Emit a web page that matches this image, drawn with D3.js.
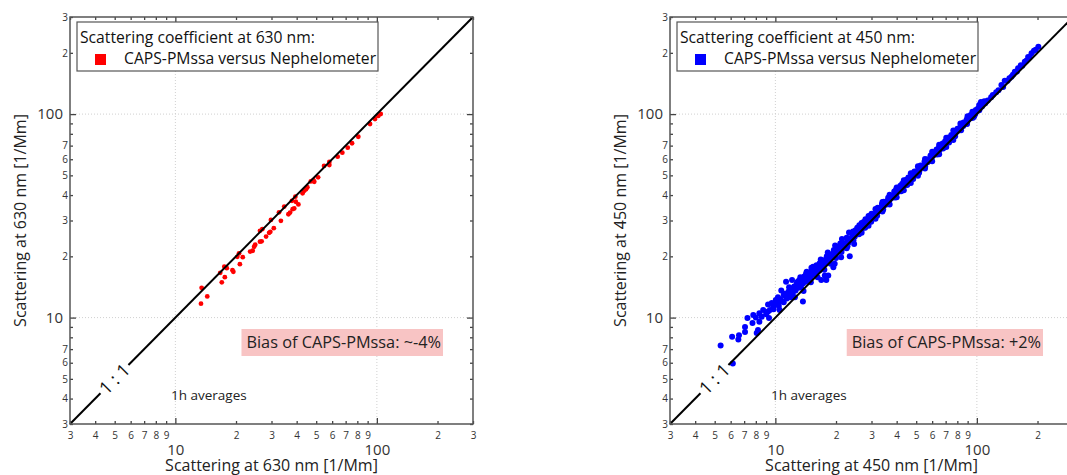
<!DOCTYPE html>
<html>
<head>
<meta charset="utf-8">
<script src="https://cdn.jsdelivr.net/npm/d3@7"></script>
<style>
body { margin: 0; background: #fff; }
svg { font-family: "Open Sans", sans-serif; }
</style>
</head>
<body>
<svg width="1067" height="475"></svg>
<script>
// values: [nephelometer, CAPS-PMssa] in 1/Mm
var redPoints = [
  [13.4,11.7],[13.5,14.0],[14.4,12.7],[17.0,14.9],[17.6,15.8],[16.7,16.6],[17.5,17.8],[18.0,17.5],
  [19.2,17.1],[19.4,16.8],[20.9,18.3],[21.6,19.8],[20.3,19.9],[20.7,20.7],[23.5,21.1],[24.2,21.3],
  [24.6,22.3],[24.9,22.8],[26.3,23.6],[26.8,23.7],[26.3,26.7],[27.0,27.2],[28.2,25.0],[29.2,26.1],
  [29.6,26.4],[30.8,27.5],[29.8,30.2],[33.4,29.9],[32.7,32.9],[34.7,35.1],[36.4,32.2],[37.1,32.8],
  [38.2,34.1],[38.9,34.4],[37.9,37.5],[39.4,39.3],[39.6,37.1],[40.8,36.0],[42.8,40.8],[43.6,42.0],
  [44.5,42.7],[45.2,43.7],[47.0,46.7],[48.4,47.4],[48.9,46.5],[51.1,48.9],[54.7,55.6],[58.1,56.2],
  [58.1,58.2],[63.9,61.8],[67.4,64.6],[71.7,68.4],[75.3,71.9],[80.9,77.4],[92.5,89.4],[97.9,94.6],
  [101.6,97.9],[104.5,100.1]
];

var bluePoints = [
  // sparse low end
  [5.35,7.3],[6.1,8.05],[6.15,5.95],[6.55,7.8],[6.6,8.2],[7.07,8.5],[7.07,9.0],[7.27,9.95],
  [7.77,10.3],[7.7,9.4],[8.0,10.0],[8.08,8.4],[8.2,8.7],[8.33,10.5],[8.55,10.1],[8.33,9.55],
  [8.7,10.9],[9.2,10.7],[9.3,9.95],[9.2,11.6],[9.6,11.8],[9.75,11.3],[10.05,12.2],[10.5,10.9],
  [10.3,12.6],[10.7,13.6],[11.1,13.1],[11.3,15.0],[11.7,14.1],[11.9,13.3],[12.1,15.3],[11.9,12.6],
  [12.8,14.8],[13.3,15.8],[13.7,12.0],[14.0,15.8],[14.3,16.8],[14.8,15.3],[15.1,17.6],[15.7,16.6],
  [16.0,18.1],[16.6,17.1],[16.9,15.3],[17.9,15.3],[17.6,16.1],[18.3,16.1],[17.3,18.8],[18.3,19.4],
  [19.0,20.0],[19.4,17.7],[19.7,18.4],[20.1,21.4],[20.8,22.3],[21.2,19.8],[21.9,23.0],[22.6,21.9],
  [23.0,24.5],[23.4,20.0],[24.2,25.3],[24.6,23.0],[25.0,26.9],
  // dense band
  [9.0,10.4],[9.4,10.9],[9.8,11.0],[10.1,11.7],[10.4,11.4],[10.6,12.3],[10.9,12.0],[11.2,12.8],
  [11.4,12.4],[11.6,13.4],[11.8,12.9],[12.0,13.9],[12.2,13.2],[12.4,14.2],[12.6,13.6],[12.8,14.6],
  [13.0,14.0],[13.1,15.2],[13.3,14.5],[13.5,15.5],[13.7,14.7],[13.9,15.9],[14.1,15.0],[14.3,16.1],
  [14.5,15.6],[14.7,16.5],[14.9,15.8],[15.1,16.9],[15.3,16.2],[15.5,17.3],[15.7,16.6],[15.9,17.6],
  [16.1,17.0],[16.3,18.0],[16.5,17.3],[16.7,18.4],[16.9,17.6],[17.1,18.8],[17.4,18.1],[17.6,19.2],
  [17.9,18.6],[18.1,19.6],[18.4,19.0],[18.7,20.1],[19.0,19.6],[19.3,20.7],[19.6,20.3],[19.9,21.3],
  [20.2,20.8],[20.5,21.8],[20.8,21.3],[21.1,22.4],[21.5,21.9],[21.9,23.0],[22.3,22.6],[22.7,23.7],
  [23.1,23.4],[23.5,24.5],[23.9,24.1],[24.3,25.3],[24.8,25.0],[25.2,26.1],[25.7,25.9],[26.2,27.1],
  [26.7,26.8],[27.2,28.0],[27.7,27.8],[28.2,29.2],[28.8,28.9],[29.4,30.3],[30.0,30.7],[30.6,31.7],
  [31.2,32.0],[31.8,33.0],[32.5,33.2],[33.2,34.6],[33.9,34.6],[34.6,36.0],[35.3,35.9],[36.0,37.5],
  [36.8,37.5],[37.6,39.1],[38.4,39.1],[39.2,40.8],[40.0,40.9],[40.9,42.6],[41.8,42.6],[42.7,44.4],
  [43.6,44.5],[44.6,46.3],[45.6,46.5],[46.6,48.3],[47.6,48.6],[48.7,50.4],[49.8,50.9],[50.9,52.7],
  [52.0,53.1],[53.2,55.1],[54.4,55.5],[55.6,57.5],[56.9,58.0],[58.2,60.2],[59.5,60.7],[60.9,63.0],
  [62.3,63.5],[63.7,65.9],[65.2,66.5],[66.7,69.0],[68.2,69.6],[69.8,72.2],[71.4,72.8],[73.0,75.5],
  [74.7,76.2],[76.4,79.0],[78.2,79.8],[80.0,82.7],[81.8,83.4],[83.7,86.5],[85.6,87.3],[87.6,90.5],
  [89.6,91.4],[91.7,94.8],[93.8,95.6],[96.0,99.2],[98.2,100.0],[100.5,104.0],[102.8,104.5],
  [12.5,12.6],[13.8,13.5],[15.0,14.9],[16.2,15.8],[17.5,17.2],[18.8,18.4],[20.0,19.6],[21.3,21.0],
  [22.8,22.4],[24.4,24.0],[26.0,25.7],[27.9,27.6],[29.9,29.6],[32.0,31.7],[34.3,34.0],[36.7,36.4],
  [39.3,38.9],[42.1,41.8],[45.1,44.8],[48.3,48.0],[51.7,51.5],[55.4,55.2],[59.3,59.0],[63.5,63.3],
  [68.0,67.8],[72.8,72.6],[78.0,77.9],[83.5,83.4],[89.4,89.5],[95.7,95.9],
  [10.5,12.0],[11.5,13.1],[12.7,14.4],[13.9,15.7],[15.2,17.0],[16.6,18.5],[18.0,20.0],[19.5,21.5],
  [21.0,23.1],[22.6,24.7],[24.3,26.5],[26.1,28.4],[28.0,30.4],[30.0,32.4],[32.2,34.7],[34.5,37.1],
  [37.0,39.7],[39.7,42.5],[42.6,45.5],[45.7,48.8],[49.0,52.2],[52.6,55.9],[56.4,59.9],[60.5,64.1],
  [64.9,68.7],[69.6,73.6],[74.7,79.0],[80.1,84.7],[85.9,90.8],[92.1,97.3],
  [11.0,11.9],[12.1,12.9],[13.4,14.1],[14.6,15.2],[15.8,16.5],[17.0,17.7],[18.3,19.0],[19.7,20.4],
  [21.2,21.9],[22.9,23.5],[24.6,25.2],[26.5,27.1],[28.5,29.1],[30.6,31.3],[32.9,33.6],[35.4,36.1],
  [38.0,38.8],[40.8,41.6],[43.8,44.7],[47.1,48.0],[50.6,51.6],[54.3,55.4],[58.3,59.5],[62.6,63.9],
  [67.2,68.6],[72.2,73.6],[77.5,79.1],[83.2,84.9],[89.3,91.1],[95.9,97.8],
  [25.5,27.6],[27.4,29.5],[29.4,31.6],[31.5,33.8],[33.8,36.2],[36.3,38.8],[38.9,41.6],[41.7,44.5],
  [44.7,47.6],[47.9,51.0],[51.3,54.6],[55.0,58.5],[58.9,62.6],[63.1,67.0],[67.6,71.7],[72.4,76.7],
  [77.6,82.1],[83.1,87.9],[89.0,94.1],[95.3,100.7],[101.5,106.8],
  [10.2,11.9],[11.0,12.9],[11.8,13.7],[12.9,15.0],[14.2,16.4],[15.4,17.8],[16.8,19.3],[18.2,20.9],
  [19.8,22.6],[21.4,24.3],[23.2,26.2],
  [26.8,29.2],[29.0,31.6],[31.4,34.2],[34.0,37.0],[36.9,40.2],[40.0,43.6],[43.4,47.3],[47.0,51.2],
  [51.0,55.5],[55.3,60.2],[60.0,65.3],[65.0,70.7],[70.5,76.6],[76.4,83.0],[82.9,90.0],[89.9,97.5],
  [26.8,26.1],[29.0,28.3],[31.4,30.6],[34.0,33.2],[36.9,36.0],[40.0,39.0],[43.4,42.3],[47.0,45.9],
  [51.0,49.8],[55.3,54.0],[60.0,58.6],[65.0,63.5],[70.5,68.9],[76.4,74.6],
  // high end
  [93.2,99],[95.0,102.7],[96.9,97.2],[98.8,104.6],[102.7,110.8],[104.8,114.6],[106,109],[108.9,115.8],
  [110,113],[113.2,116.6],[117.7,121],[120,124],[124.7,128.2],[128,131],[132.4,139],[135,136],
  [137.5,145.8],[142,146],[145,150],[148.5,152.6],[151,156],[154.3,161.5],[158,162],[160.2,168],
  [165.2,174],[168,173],[172.9,181],[176,183],[179.6,191],[183,190],[186.8,199],[192,205],
  [196,207],[201.9,214]
];

var domain = [3, 300];
var majorTicks = [10, 100];
var minorTicks = [3, 4, 5, 6, 7, 8, 9, 20, 30, 40, 50, 60, 70, 80, 90, 200, 300];
var oneToOne = [3, 300];
var oneToOneGap = [4.25, 5.85];

var panels = [
  {left: 70, points: redPoints, color: '#ff0000', r: 2.4, wl: '630', bias: '~-4%'},
  {left: 670, points: bluePoints, color: '#0000ff', r: 3, wl: '450', bias: '+2%'}
];

var svg = d3.select('svg');
var top0 = 17, size = 403, hgt = 407;

panels.forEach(function(p) {
  var x = d3.scaleLog().domain(domain).range([p.left, p.left + size]);
  var y = d3.scaleLog().domain(domain).range([top0 + hgt, top0]);
  var g = svg.append('g');

  // grid
  g.selectAll('.gx').data(majorTicks).enter().append('line')
    .attr('x1', d => x(d)).attr('x2', d => x(d))
    .attr('y1', top0).attr('y2', top0 + hgt)
    .attr('stroke', '#d0d0d0').attr('stroke-dasharray', '1,2');
  g.selectAll('.gy').data(majorTicks).enter().append('line')
    .attr('y1', d => y(d)).attr('y2', d => y(d))
    .attr('x1', p.left).attr('x2', p.left + size)
    .attr('stroke', '#d0d0d0').attr('stroke-dasharray', '1,2');

  // points
  g.append('g').selectAll('circle').data(p.points).enter().append('circle')
    .attr('cx', d => x(d[0]))
    .attr('cy', d => y(d[1]))
    .attr('r', p.r)
    .attr('fill', p.color);

  // 1:1 line with a gap for its label
  var line = d3.line().x(d => x(d)).y(d => y(d));
  g.append('path').attr('d', line([oneToOne[0], oneToOneGap[0]]))
    .attr('stroke', '#000').attr('stroke-width', 2).attr('fill', 'none');
  g.append('path').attr('d', line([oneToOneGap[1], oneToOne[1]]))
    .attr('stroke', '#000').attr('stroke-width', 2).attr('fill', 'none');
  var mid = Math.sqrt(oneToOneGap[0] * oneToOneGap[1]);
  g.append('text')
    .attr('transform', 'translate(' + x(mid) + ',' + y(mid) + ') rotate(-45)')
    .attr('text-anchor', 'middle').attr('dy', '0.35em')
    .attr('font-size', 18).attr('fill', '#111')
    .text('1 : 1');

  // axes: minor labels, major labels, ticks on all sides
  var minorFmt = d => String(d)[0];
  var bottomMinor = d3.axisBottom(x).tickValues(minorTicks).tickSize(-3).tickSizeOuter(0)
    .tickPadding(8).tickFormat(minorFmt);
  var bottomMajor = d3.axisBottom(x).tickValues(majorTicks).tickSize(-6).tickSizeOuter(0)
    .tickPadding(20).tickFormat(d3.format('d'));
  var leftMinor = d3.axisLeft(y).tickValues(minorTicks).tickSize(-3).tickSizeOuter(0)
    .tickPadding(2).tickFormat(d => (String(d)[0] === '8' || String(d)[0] === '9') ? '' : String(d)[0]);
  var leftMajor = d3.axisLeft(y).tickValues(majorTicks).tickSize(-6).tickSizeOuter(0)
    .tickPadding(7).tickFormat(d3.format('d'));

  var axes = [
    [bottomMinor, 'translate(0,' + (top0 + hgt) + ')', 10],
    [bottomMajor, 'translate(0,' + (top0 + hgt) + ')', 15],
    [leftMinor, 'translate(' + p.left + ',0)', 10],
    [leftMajor, 'translate(' + p.left + ',0)', 15],
    [d3.axisTop(x).tickValues(minorTicks).tickSize(-3).tickFormat(''), 'translate(0,' + top0 + ')', 10],
    [d3.axisTop(x).tickValues(majorTicks).tickSize(-6).tickFormat(''), 'translate(0,' + top0 + ')', 10],
    [d3.axisRight(y).tickValues(minorTicks).tickSize(-3).tickFormat(''), 'translate(' + (p.left + size) + ',0)', 10],
    [d3.axisRight(y).tickValues(majorTicks).tickSize(-6).tickFormat(''), 'translate(' + (p.left + size) + ',0)', 10]
  ];
  axes.forEach(function(a) {
    var ag = g.append('g').attr('transform', a[1]).call(a[0]);
    ag.select('.domain').remove();
    ag.attr('font-family', null).attr('font-size', a[2]);
    ag.selectAll('line').attr('stroke', '#444').attr('stroke-width', 1.3);
    ag.selectAll('text').attr('fill', '#333');
  });

  // frame
  g.append('rect')
    .attr('x', p.left).attr('y', top0).attr('width', size).attr('height', hgt)
    .attr('fill', 'none').attr('stroke', '#555').attr('stroke-width', 1.5);

  // axis titles
  g.append('text')
    .attr('x', p.left + size / 2).attr('y', 471)
    .attr('text-anchor', 'middle').attr('font-size', 16).attr('fill', '#222')
    .text('Scattering at ' + p.wl + ' nm [1/Mm]');
  g.append('text')
    .attr('transform', 'translate(' + (p.left - 44) + ',' + (top0 + hgt / 2) + ') rotate(-90)')
    .attr('text-anchor', 'middle').attr('font-size', 16).attr('fill', '#222')
    .text('Scattering at ' + p.wl + ' nm [1/Mm]');

  // legend
  g.append('rect')
    .attr('x', p.left + 7).attr('y', top0 + 5).attr('width', 301).attr('height', 49)
    .attr('fill', '#fff').attr('stroke', '#555').attr('stroke-width', 1.2);
  g.append('text')
    .attr('x', p.left + 10).attr('y', top0 + 26)
    .attr('font-size', 15.7).attr('fill', '#111')
    .text('Scattering coefficient at ' + p.wl + ' nm:');
  g.append('rect')
    .attr('x', p.left + 25).attr('y', top0 + 37).attr('width', 11).attr('height', 11)
    .attr('fill', p.color);
  g.append('text')
    .attr('x', p.left + 54).attr('y', top0 + 47)
    .attr('font-size', 15.7).attr('fill', '#111')
    .text('CAPS-PMssa versus Nephelometer');

  // annotations
  g.append('text')
    .attr('x', p.left + 101).attr('y', 400)
    .attr('font-size', 13.5).attr('fill', '#222')
    .text('1h averages');
  var biasBox = g.append('rect').attr('fill', '#f8c4c4');
  var bias = g.append('text')
    .attr('x', p.left + 371).attr('y', 348)
    .attr('text-anchor', 'end').attr('font-size', 16.3).attr('fill', '#222')
    .text('Bias of CAPS-PMssa: ' + p.bias);
  var bb = bias.node().getBBox();
  biasBox.attr('x', bb.x - 5).attr('y', 329).attr('width', bb.width + 7).attr('height', 27);
});
</script>
</body>
</html>
